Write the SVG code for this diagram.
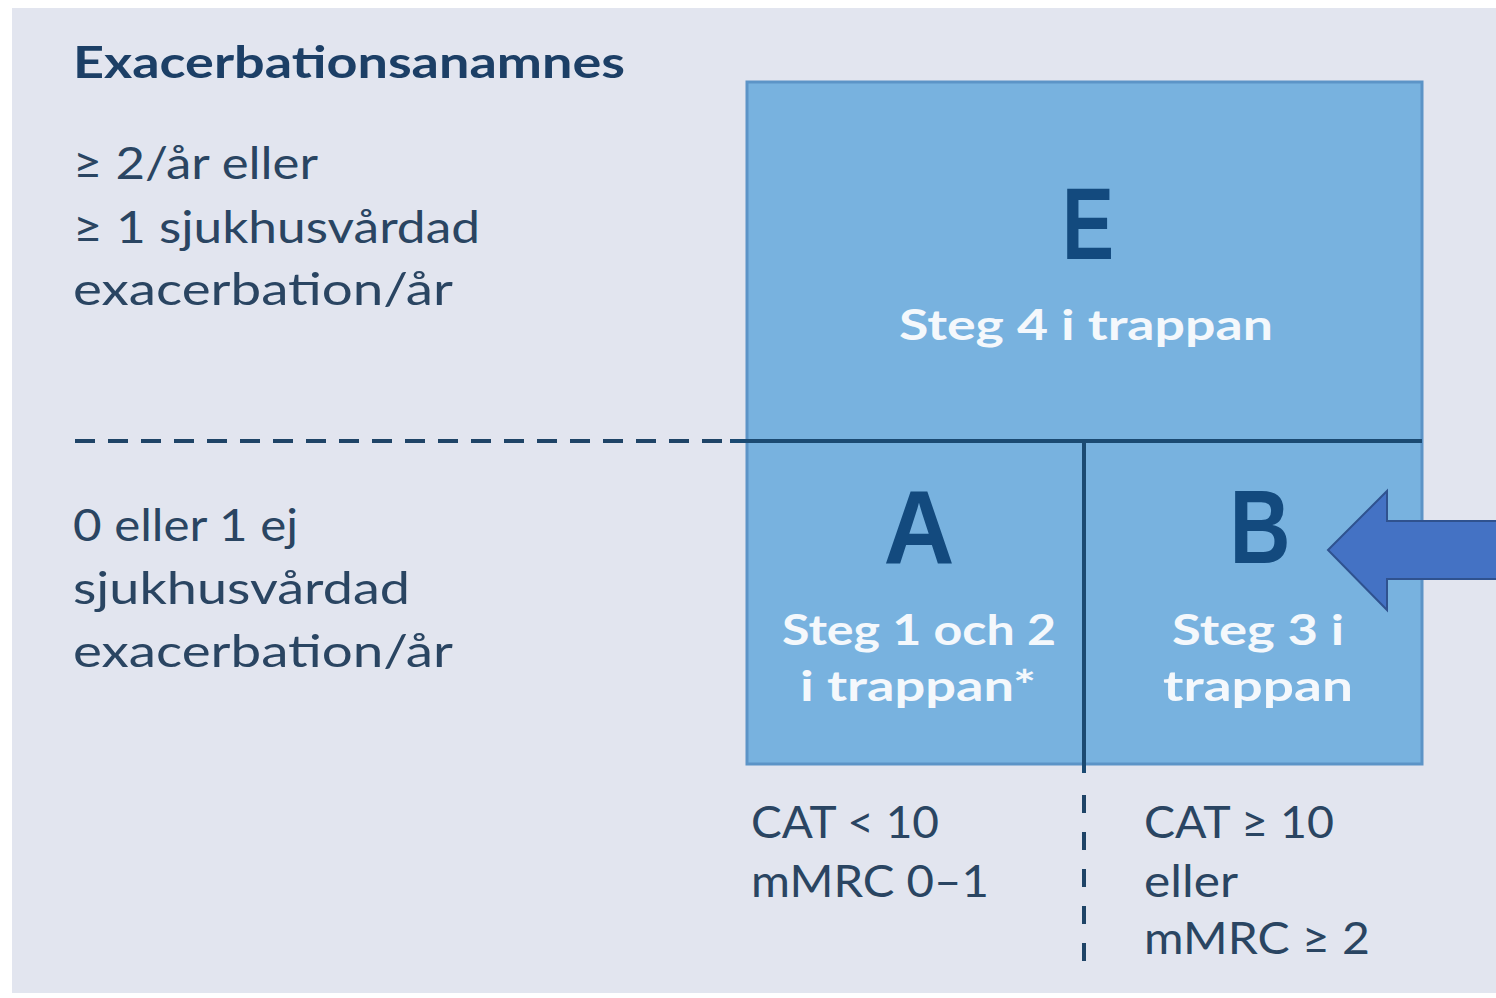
<svg xmlns="http://www.w3.org/2000/svg" width="1496" height="998" viewBox="0 0 1496 998">
  <style>
    .t { font-family: "Lato", "Liberation Sans", sans-serif; font-size: 44px; fill: #2A4562; }
    .title { font-family: "Lato", "Liberation Sans", sans-serif; font-size: 44px; font-weight: bold; fill: #1C3F66; }
    .big { font-family: "Liberation Sans", "Lato", sans-serif; font-weight: bold; fill: #134A7E; text-anchor: middle; }
    .w { font-family: "Lato", "Liberation Sans", sans-serif; font-size: 42px; font-weight: bold; fill: #F4F8FC; text-anchor: middle; }
    .box { fill: #78B2DF; stroke: #5C94C7; stroke-width: 3; }
    .sep { stroke: #1B4A72; stroke-width: 4; fill: none; }
    .dash { stroke: #1F4467; stroke-width: 4; fill: none; }
  </style>
  <rect x="0" y="0" width="1496" height="998" fill="#FFFFFF"/>
  <rect x="12" y="8" width="1484" height="985" fill="#E2E5EF"/>

  <g id="title">
    <text class="title" x="73" y="78" textLength="552" lengthAdjust="spacingAndGlyphs">Exacerbationsanamnes</text>
  </g>

  <g id="label-high">
    <text class="t" x="73" y="179" textLength="245" lengthAdjust="spacingAndGlyphs">≥ 2/år eller</text>
    <text class="t" x="73" y="243" textLength="407" lengthAdjust="spacingAndGlyphs">≥ 1 sjukhusvårdad</text>
    <text class="t" x="73" y="305" textLength="380" lengthAdjust="spacingAndGlyphs">exacerbation/år</text>
  </g>

  <g id="label-low">
    <text class="t" x="73" y="541" textLength="225" lengthAdjust="spacingAndGlyphs">0 eller 1 ej</text>
    <text class="t" x="73" y="604" textLength="337" lengthAdjust="spacingAndGlyphs">sjukhusvårdad</text>
    <text class="t" x="73" y="667" textLength="380" lengthAdjust="spacingAndGlyphs">exacerbation/år</text>
  </g>

  <g id="box">
    <rect class="box" x="747" y="82" width="675" height="682"/>
  </g>

  <g id="node-E">
    <text class="big" x="1088" y="259" font-size="102" textLength="52" lengthAdjust="spacingAndGlyphs">E</text>
    <text class="w" x="1086" y="340" textLength="374" lengthAdjust="spacingAndGlyphs">Steg 4 i trappan</text>
  </g>

  <g id="node-A">
    <text class="big" x="919" y="563" font-size="104" textLength="71" lengthAdjust="spacingAndGlyphs">A</text>
    <text class="w" x="919" y="645" textLength="274" lengthAdjust="spacingAndGlyphs">Steg 1 och 2</text>
    <text class="w" x="918" y="701" textLength="236" lengthAdjust="spacingAndGlyphs">i trappan*</text>
  </g>

  <g id="node-B">
    <text class="big" x="1260" y="563" font-size="104" textLength="61" lengthAdjust="spacingAndGlyphs">B</text>
    <text class="w" x="1258" y="645" textLength="172" lengthAdjust="spacingAndGlyphs">Steg 3 i</text>
    <text class="w" x="1258" y="701" textLength="190" lengthAdjust="spacingAndGlyphs">trappan</text>
  </g>

  <g id="label-A-criteria">
    <text class="t" x="751" y="838" textLength="188" lengthAdjust="spacingAndGlyphs">CAT &lt; 10</text>
    <text class="t" x="751" y="897" textLength="238" lengthAdjust="spacingAndGlyphs">mMRC 0–1</text>
  </g>

  <g id="label-B-criteria">
    <text class="t" x="1144" y="838" textLength="190" lengthAdjust="spacingAndGlyphs">CAT ≥ 10</text>
    <text class="t" x="1144" y="897" textLength="94" lengthAdjust="spacingAndGlyphs">eller</text>
    <text class="t" x="1144" y="954" textLength="226" lengthAdjust="spacingAndGlyphs">mMRC ≥ 2</text>
  </g>

  <g id="connectors">
    <line class="dash" x1="75" y1="441" x2="735" y2="441" stroke-dasharray="20 13"/>
    <line class="sep" x1="730" y1="441" x2="1422" y2="441"/>
    <line class="sep" x1="1084" y1="441" x2="1084" y2="773"/>
    <line class="dash" x1="1084" y1="795" x2="1084" y2="963" stroke-dasharray="18 19"/>
  </g>

  <g id="arrow">
    <polygon points="1328,550 1387,491 1387,521 1498,521 1498,579 1387,579 1387,610" fill="#4472C4" stroke="#2F528F" stroke-width="2"/>
  </g>
</svg>
